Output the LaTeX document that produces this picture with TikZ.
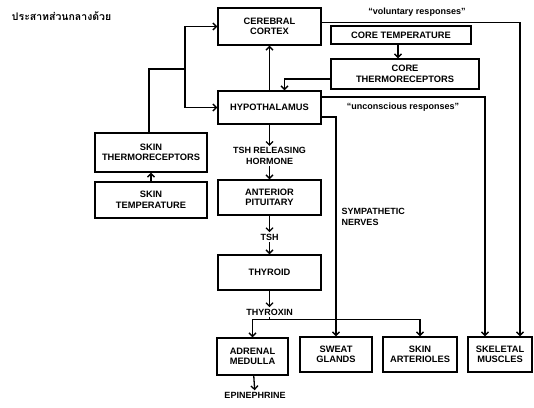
\documentclass[tikz,border=0pt]{standalone}
\usepackage{fontspec}
\setmainfont{Liberation Sans}
\newfontfamily\thaifont[Script=Thai]{Loma}
\usetikzlibrary{arrows.meta}

\begin{document}
\begin{tikzpicture}[x=1pt,y=-1pt,>={Straight Barb[length=3.5pt,width=7pt]},line width=1.3pt,
	block/.style={draw, line width=1.4pt, align=center, inner sep=1pt, font=\bfseries\fontsize{9.3}{10.5}\selectfont},
	txt/.style={align=center, inner sep=1pt, font=\bfseries\fontsize{9}{10.5}\selectfont}]
	\useasboundingbox (0,0) rectangle (534,407);
	% Nodes
	\node[anchor=west] (title) at (8,16) {\thaifont\bfseries\fontsize{10.5}{12}\selectfont ประสาทส่วนกลางด้วย};
	\node[block, minimum width=103pt, minimum height=37pt] (cortex) at (269.5,26.5) {CEREBRAL\\CORTEX};
	\node[block, minimum width=103pt, minimum height=33pt] (hypo) at (269.5,107.5) {HYPOTHALAMUS};
	\node[block, minimum width=140pt, minimum height=18pt] (ctemp) at (401,35) {CORE TEMPERATURE};
	\node[block, minimum width=148pt, minimum height=30pt] (cthermo) at (405,74) {CORE\\THERMORECEPTORS};
	\node[block, minimum width=112pt, minimum height=39pt] (sthermo) at (151,152.5) {SKIN\\THERMORECEPTORS};
	\node[block, minimum width=112pt, minimum height=36pt] (stemp) at (151,200) {SKIN\\TEMPERATURE};
	\node[txt] (tshrh) at (269.5,156) {TSH RELEASING\\HORMONE};
	\node[block, minimum width=103pt, minimum height=35pt] (antpit) at (269.5,197.5) {ANTERIOR\\PITUITARY};
	\node[txt] (tsh) at (269.5,237) {TSH};
	\node[block, minimum width=103pt, minimum height=35pt] (thyroid) at (269.5,272.5) {THYROID};
	\node[txt] (thyroxin) at (269.5,312) {THYROXIN};
	\node[block, minimum width=71pt, minimum height=37pt] (adrenal) at (252.5,356.5) {ADRENAL\\MEDULLA};
	\node[block, minimum width=72pt, minimum height=35pt] (sweat) at (336,354.5) {SWEAT\\GLANDS};
	\node[block, minimum width=74pt, minimum height=35pt] (arter) at (420,354.5) {SKIN\\ARTERIOLES};
	\node[block, minimum width=64pt, minimum height=35pt] (skel) at (500,354.5) {SKELETAL\\MUSCLES};
	\node[txt] (epi) at (255,395) {EPINEPHRINE};
	\node[txt, anchor=west, align=left] (symp) at (340,217) {SYMPATHETIC\\NERVES};
	\node[txt] (vol) at (417,12) {``voluntary responses''};
	\node[txt] (uncon) at (403,107) {``unconscious responses''};
	\coordinate (split) at (185,69);
	
	% skin side
	\draw[->] (stemp) -- (sthermo);
	\draw (sthermo.north -| 149,0) |- (split);
	\draw[->] (split) |- (cortex);
	\draw[->] (split) |- (hypo);
	
	% core side
	\draw[->] (ctemp.south -| 398,0) -- (cthermo.north -| 398,0);
	\draw[->] ([yshift=-5pt]cthermo.west) -| ([xshift=15pt]hypo.north);
	\draw[->] (hypo) -- (cortex);
	
	% responses
	\draw[->] ([yshift=4pt]cortex.east) -| ([xshift=20pt]skel.north);
	\draw[->] ([yshift=10.5pt]hypo.east) -| ([xshift=-15pt]skel.north);
	\draw[->] ([yshift=-9.5pt]hypo.east) -| (sweat.north);
	
	% hormone chain
	\path[->]
	(hypo) edge (tshrh)
	(tshrh) edge (antpit)
	(antpit) edge (tsh)
	(tsh) edge (thyroid)
	(thyroid) edge (thyroxin)
	(adrenal) edge (epi);
	\draw[->] (thyroxin.south) -- ++(0,3) -| (adrenal.north);
	\draw[->] (thyroxin.south) -- ++(0,3) -| (arter.north);
	
\end{tikzpicture}
\end{document}
